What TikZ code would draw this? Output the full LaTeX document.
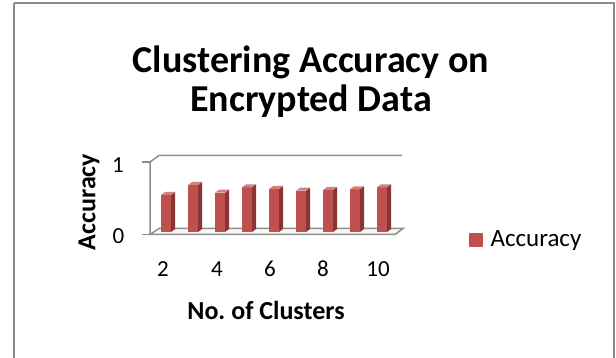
\documentclass[tikz,border=0pt]{standalone}
\usepackage{fontspec}
\setmainfont{Carlito}
\frenchspacing
\definecolor{barfront}{HTML}{C0504D}
\definecolor{barside}{HTML}{8A3533}
\definecolor{bartop}{HTML}{D3817E}
\definecolor{axisgray}{HTML}{8E8E8E}
\definecolor{framegray}{HTML}{8C8C8C}
\begin{document}
\begin{tikzpicture}[x=1pt,y=-1pt,
  titletext/.style={font=\fontsize{38}{44}\selectfont\bfseries, align=center},
  axtitle/.style={font=\fontsize{26}{30}\selectfont\bfseries},
  ticklab/.style={font=\fontsize{23}{26}\selectfont},
  legtext/.style={font=\fontsize{25}{28}\selectfont, anchor=west},
  axline/.style={draw=axisgray, line width=1.5pt},
]
\useasboundingbox (0,0) rectangle (616,358);
\draw[framegray, line width=2pt] (14,3) -- (614,3) -- (614,370) (14,3) -- (14,370);
% title
\node[titletext] (t1) at (311,62) {Clustering Accuracy on};
\node[titletext] (t2) at (311,101) {Encrypted Data};
% walls and floor
\draw[axline, fill=gray!6] (150,234.5) -- (395,234.5) -- (403,228.5) -- (159,228.5) -- cycle;
\draw[axline] (150,234.5) -- (150,162) -- (159,155.5) -- (402,155.5);
\draw[axline] (142,234.5) -- (150,234.5);
\draw[axline] (142,162) -- (150,162);
% bars
\foreach \i/\t in {0/195,1/185,2/192.7,3/187.3,4/189,5/190.7,6/190,7/189.3,8/187.3}{
  \pgfmathsetmacro{\xl}{161+27*\i}
  \pgfmathsetmacro{\xr}{\xl+10}
  \fill[barfront] (\xl,232) rectangle (\xr,\t);
  \fill[barside] (\xr,232) -- (\xr+4,229) -- (\xr+4,\t-3) -- (\xr,\t) -- cycle;
  \fill[bartop] (\xl,\t) -- (\xr,\t) -- (\xr+4,\t-3) -- (\xl+4,\t-3) -- cycle;
}
% tick labels
\node[ticklab] (y0) at (118.5,236) {0};
\node[ticklab] (y1) at (118,165) {1};
\node[ticklab] (x2) at (163,269) {2};
\node[ticklab] (x4) at (217,269) {4};
\node[ticklab] (x6) at (270,269) {6};
\node[ticklab] (x8) at (323,269) {8};
\node[ticklab] (x10) at (378,269) {10};
% axis titles
\node[axtitle, rotate=90] (ya) at (89,202) {Accuracy};
\node[axtitle] (xa) at (266,310) {No. of Clusters};
% legend
\fill[barfront] (469,233) rectangle (483,247);
\node[legtext] (leg) at (487,240) {Accuracy};
\end{tikzpicture}
\end{document}
